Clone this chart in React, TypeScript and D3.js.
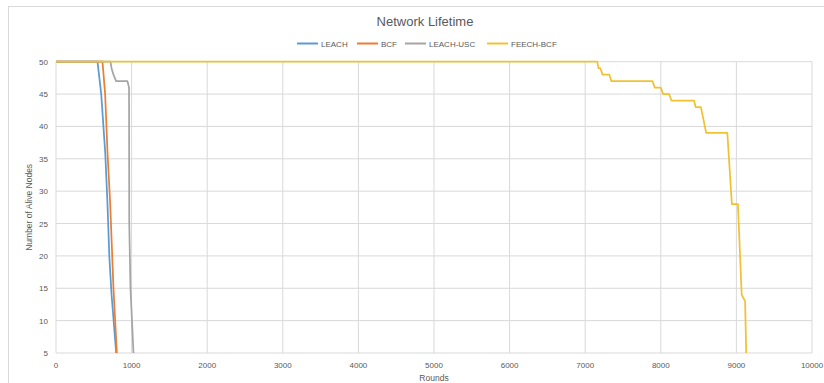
import React from "react";
import * as d3 from "d3";

// Rounds vs. number of alive nodes for each clustering protocol
const leach: [number, number][] = [
  [0, 50], [549, 50], [598, 45], [651, 36], [681, 28], [705, 20], [735, 14], [742, 13], [796, 5],
];
const bcf: [number, number][] = [
  [0, 50], [615, 50], [650, 45], [681, 36], [717, 28], [760, 15], [805, 5],
];
const leachUsc: [number, number][] = [
  [0, 50], [720, 50], [735, 49], [760, 48], [795, 47], [945, 47], [966, 46], [969, 25], [985, 15], [1025, 5],
];
const feechBcf: [number, number][] = [
  [0, 50], [7160, 50], [7175, 49], [7200, 49], [7230, 48], [7320, 48], [7345, 47], [7890, 47],
  [7920, 46], [8000, 46], [8030, 45], [8110, 45], [8140, 44], [8440, 44], [8460, 43], [8530, 43],
  [8600, 39], [8880, 39], [8940, 28], [9020, 28], [9070, 14], [9115, 13], [9130, 5],
];

const seriesNames = ["LEACH", "BCF", "LEACH-USC", "FEECH-BCF"];
const seriesData = [leach, bcf, leachUsc, feechBcf];
const seriesColors = ["#5B9BD5", "#ED7D31", "#A5A5A5", "#F0C232"];

const xTicks = [0, 1000, 2000, 3000, 4000, 5000, 6000, 7000, 8000, 9000, 10000];
const yTicks = [5, 10, 15, 20, 25, 30, 35, 40, 45, 50];

const W = 824;
const H = 383;
const plot = { left: 56, right: 812, top: 61.7, bottom: 353 };
const font = "'Liberation Sans', Arial, sans-serif";
const textColor = "#595959";
const gridColor = "#D9D9D9";

// legend swatch positions
const legendX = [297, 357, 405, 487];

export default function App() {
  const x = d3.scaleLinear().domain([0, 10000]).range([plot.left, plot.right]);
  const y = d3.scaleLinear().domain([5, 50]).range([plot.bottom, plot.top]);
  const line = d3
    .line<[number, number]>()
    .x((d) => x(d[0]))
    .y((d) => y(d[1]));

  return (
    <svg
      width={W}
      height={H}
      style={{ position: "fixed", left: 0, top: 0, background: "#fff" }}
      fontFamily={font}
    >
      <rect x={0} y={0} width={W} height={H} fill="#fff" />
      <rect x={8.5} y={6.5} width={W + 10} height={H + 10} fill="none" stroke={gridColor} strokeWidth={1} />

      <text x={425} y={26} textAnchor="middle" fontSize={13} fill={textColor}>
        Network Lifetime
      </text>

      {seriesNames.map((name, i) => (
        <g key={name}>
          <line x1={legendX[i]} x2={legendX[i] + 21} y1={43.5} y2={43.5} stroke={seriesColors[i]} strokeWidth={2} />
          <text x={legendX[i] + 24} y={46.5} fontSize={8} fill={textColor}>
            {name}
          </text>
        </g>
      ))}

      {/* gridlines */}
      {yTicks.map((t) => (
        <line key={"gy" + t} x1={plot.left} x2={plot.right} y1={y(t)} y2={y(t)} stroke={gridColor} strokeWidth={1} />
      ))}
      {xTicks.map((t) => (
        <line key={"gx" + t} x1={x(t)} x2={x(t)} y1={plot.top} y2={plot.bottom} stroke={gridColor} strokeWidth={1} />
      ))}

      {/* tick labels */}
      {yTicks.map((t) => (
        <text key={"ly" + t} x={48} y={y(t) + 3} textAnchor="end" fontSize={8} fill={textColor}>
          {t}
        </text>
      ))}
      {xTicks.map((t) => (
        <text key={"lx" + t} x={x(t)} y={368} textAnchor="middle" fontSize={8} fill={textColor}>
          {t}
        </text>
      ))}

      <text x={434} y={381} textAnchor="middle" fontSize={8.5} fill={textColor}>
        Rounds
      </text>
      <text
        transform={`translate(32,${(plot.top + plot.bottom) / 2}) rotate(-90)`}
        textAnchor="middle"
        fontSize={8.5}
        fill={textColor}
      >
        Number of Alive Nodes
      </text>

      <defs>
        <clipPath id="plotClip">
          <rect x={plot.left} y={plot.top - 2} width={plot.right - plot.left} height={plot.bottom - plot.top + 2} />
        </clipPath>
      </defs>
      <g clipPath="url(#plotClip)">
        {seriesData.map((d, i) => (
          <path
            key={seriesNames[i]}
            d={line(d) || ""}
            fill="none"
            stroke={seriesColors[i]}
            strokeWidth={1.75}
            strokeLinejoin="round"
          />
        ))}
      </g>
    </svg>
  );
}
